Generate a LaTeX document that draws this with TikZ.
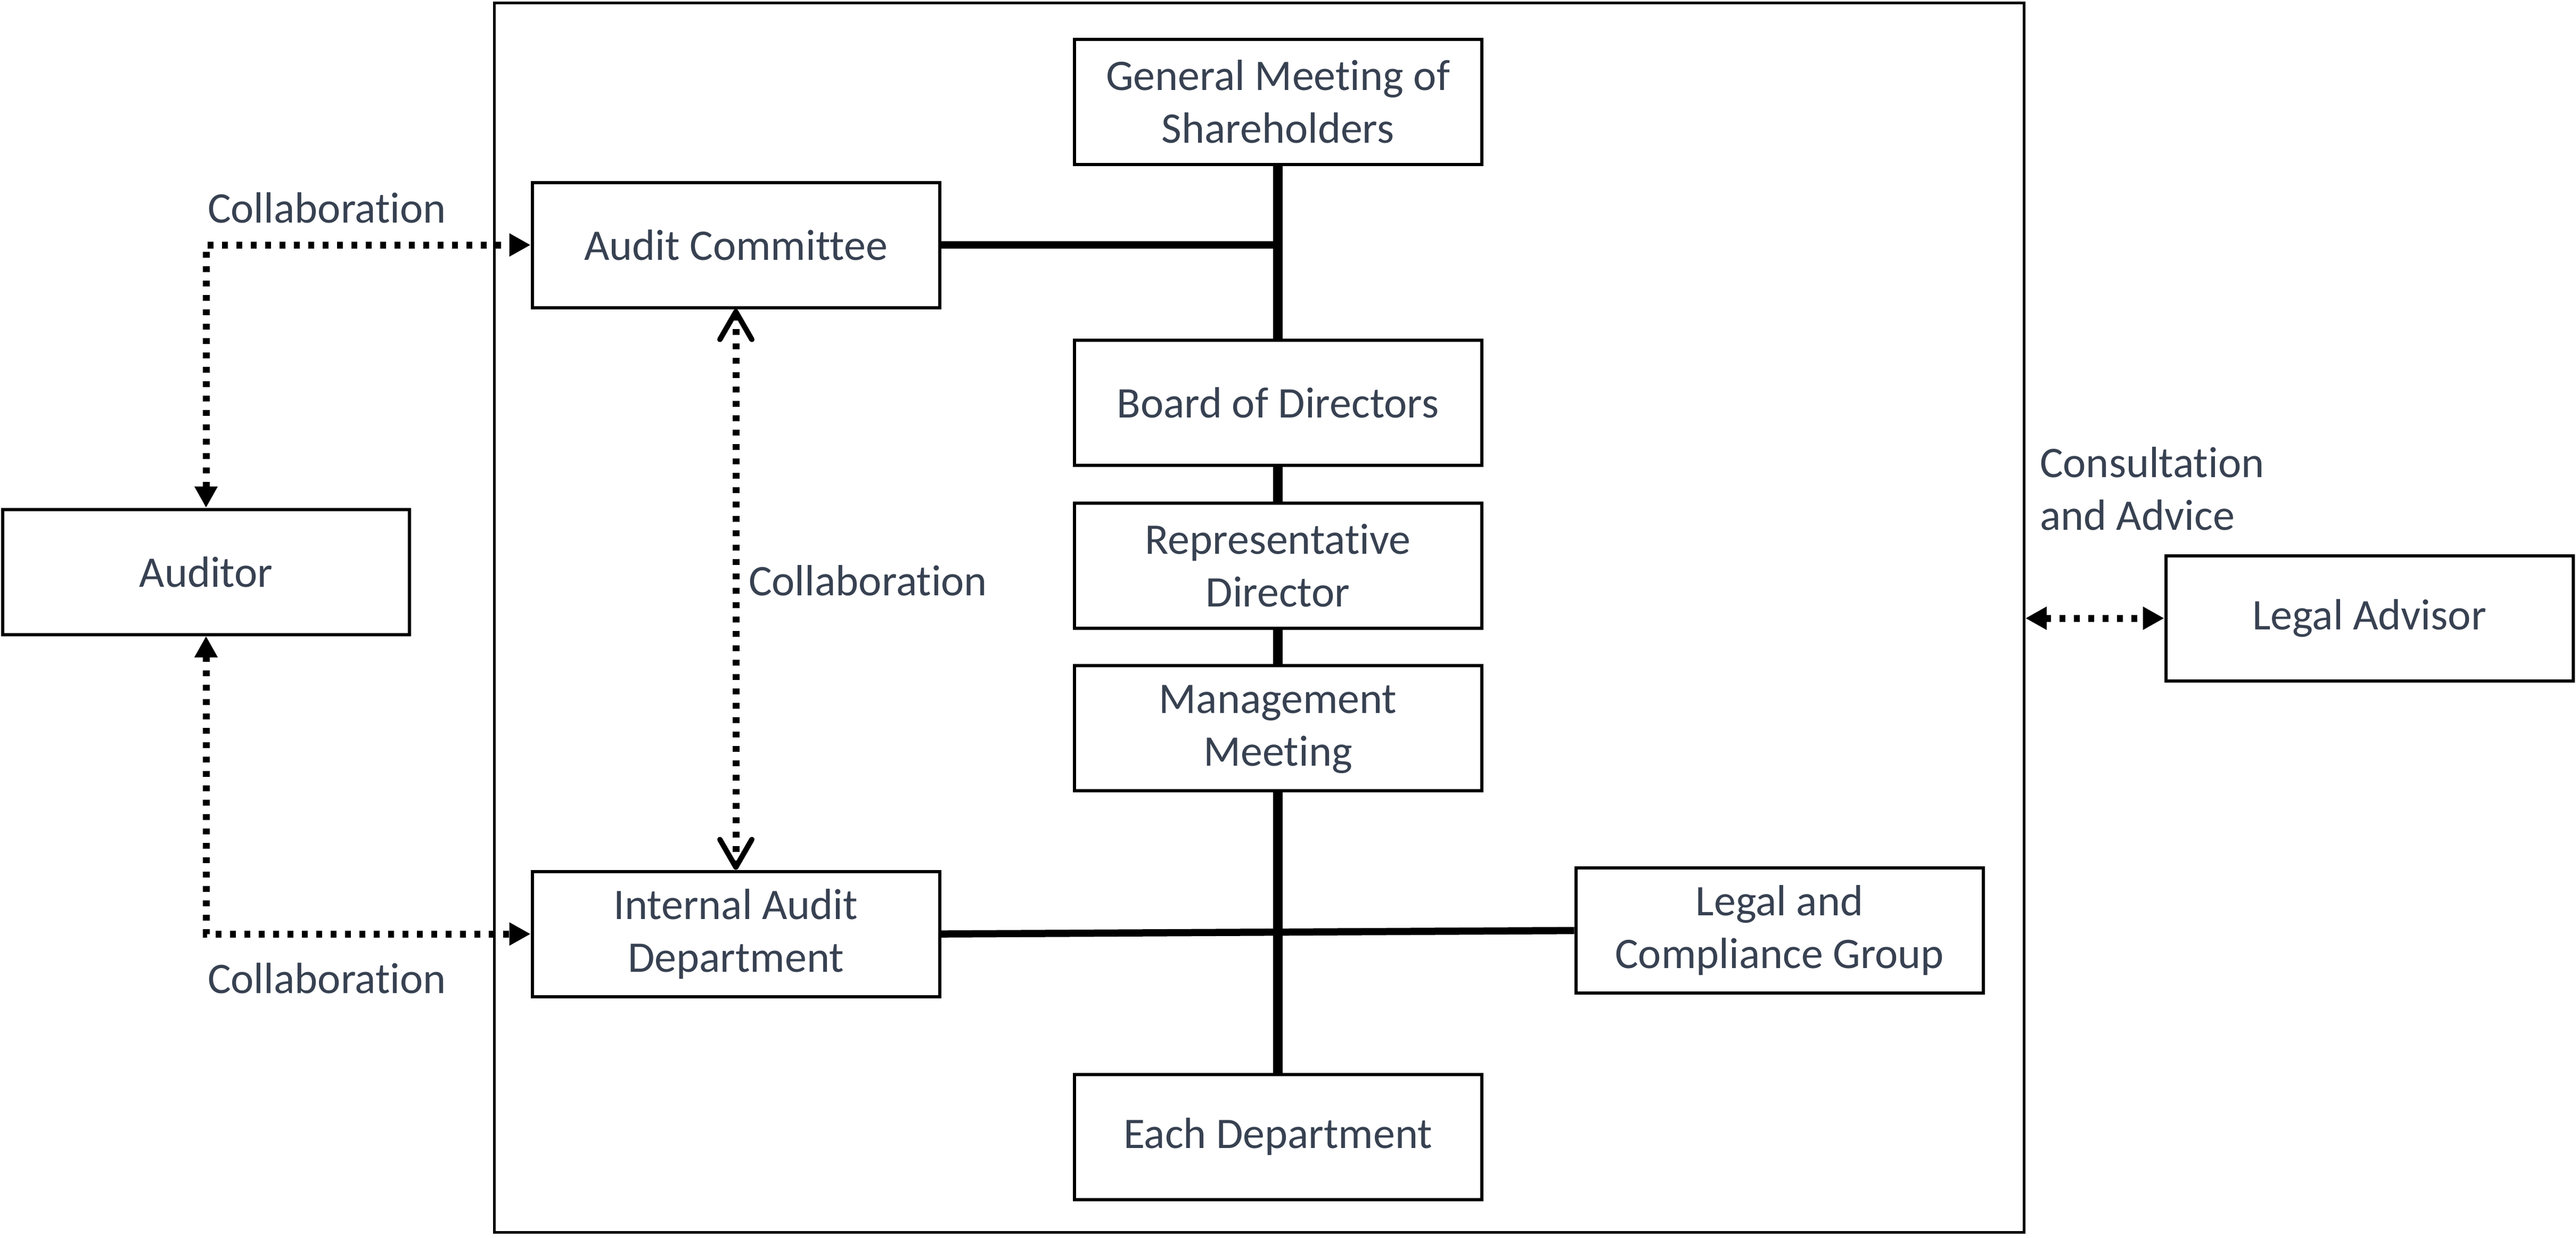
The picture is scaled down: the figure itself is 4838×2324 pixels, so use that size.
\documentclass[tikz,border=0pt]{standalone}
\usepackage{fontspec}
\setmainfont{Carlito}[Ligatures={NoCommon},RawFeature=-liga,RawFeature=-calt,RawFeature=-dlig,RawFeature=-clig]
\usetikzlibrary{arrows.meta}
\definecolor{txt}{RGB}{55,65,81}
\begin{document}
\begin{tikzpicture}[x=0.1pt,y=-0.1pt,
  box/.style={draw=black,line width=0.6pt,fill=white,minimum width=76.5pt,minimum height=23.5pt,inner sep=0pt,align=center,text=txt,font=\fontsize{8.2pt}{9.9pt}\selectfont},
  lbl/.style={inner sep=0pt,text=txt,font=\fontsize{8.2pt}{9.9pt}\selectfont},
  trunk/.style={line width=1.8pt},
  branch/.style={line width=1.35pt},
  dotline/.style={line width=1.3pt,dash pattern=on 1.1pt off 1.6pt},
  tri/.tip={Triangle[length=4pt,width=4.1pt]},
  barb/.tip={Straight Barb[length=5.2pt,width=6pt,line width=1pt,round]}
]
\useasboundingbox (0,0) rectangle (4838,2324);
\node[draw=black,line width=0.5pt,minimum width=287.3pt,minimum height=230.9pt,inner sep=0pt] (outer) at (2365,1160) {};

\node[box] (gm) at (2400,191) {General Meeting of\\Shareholders};
\node[box] (ac) at (1382,460) {Audit Committee};
\node[box] (bd) at (2400,756) {Board of Directors};
\node[box] (rd) at (2400,1062) {Representative\\Director};
\node[box,text depth=0.8pt] (mm) at (2400,1367) {Management\\Meeting};
\node[box] (iad) at (1382,1754) {Internal Audit\\Department};
\node[box] (lcg) at (3342,1747.5) {Legal and\\Compliance Group};
\node[box] (ed) at (2400,2135) {Each Department};
\node[box] (aud) at (387,1074) {Auditor};
\node[box] (la) at (4450,1161) {Legal Advisor};

\draw[trunk] (gm.south) -- (bd.north);
\draw[trunk] (bd.south) -- (rd.north);
\draw[trunk] (rd.south) -- (mm.north);
\draw[trunk] (mm.south) -- (ed.north);
\draw[branch] (ac.east) -- (ac.east -| gm.south);
\draw[branch] (iad.east) -- (lcg.west);

\draw[dotline,{tri}-{tri}] (aud.north) |- (ac.west);
\draw[dotline,{tri}-{tri}] (aud.south) |- (iad.west);
\draw[dotline,{barb}-{barb}] (ac.south) -- (iad.north);
\coordinate (lae) at (la.west -| outer.east);
\draw[dotline,{tri}-{tri}] (lae) -- (la.west);

\node[lbl,anchor=base west] (l1) at (388,418) {Collaboration};
\node[lbl,anchor=base west] (l2) at (388,1865) {Collaboration};
\node[lbl,anchor=base west] (l3) at (1404,1118) {Collaboration};
\node[lbl,anchor=base west,align=left] (l4) at (3829,995) {Consultation\\and Advice};
\end{tikzpicture}
\end{document}
